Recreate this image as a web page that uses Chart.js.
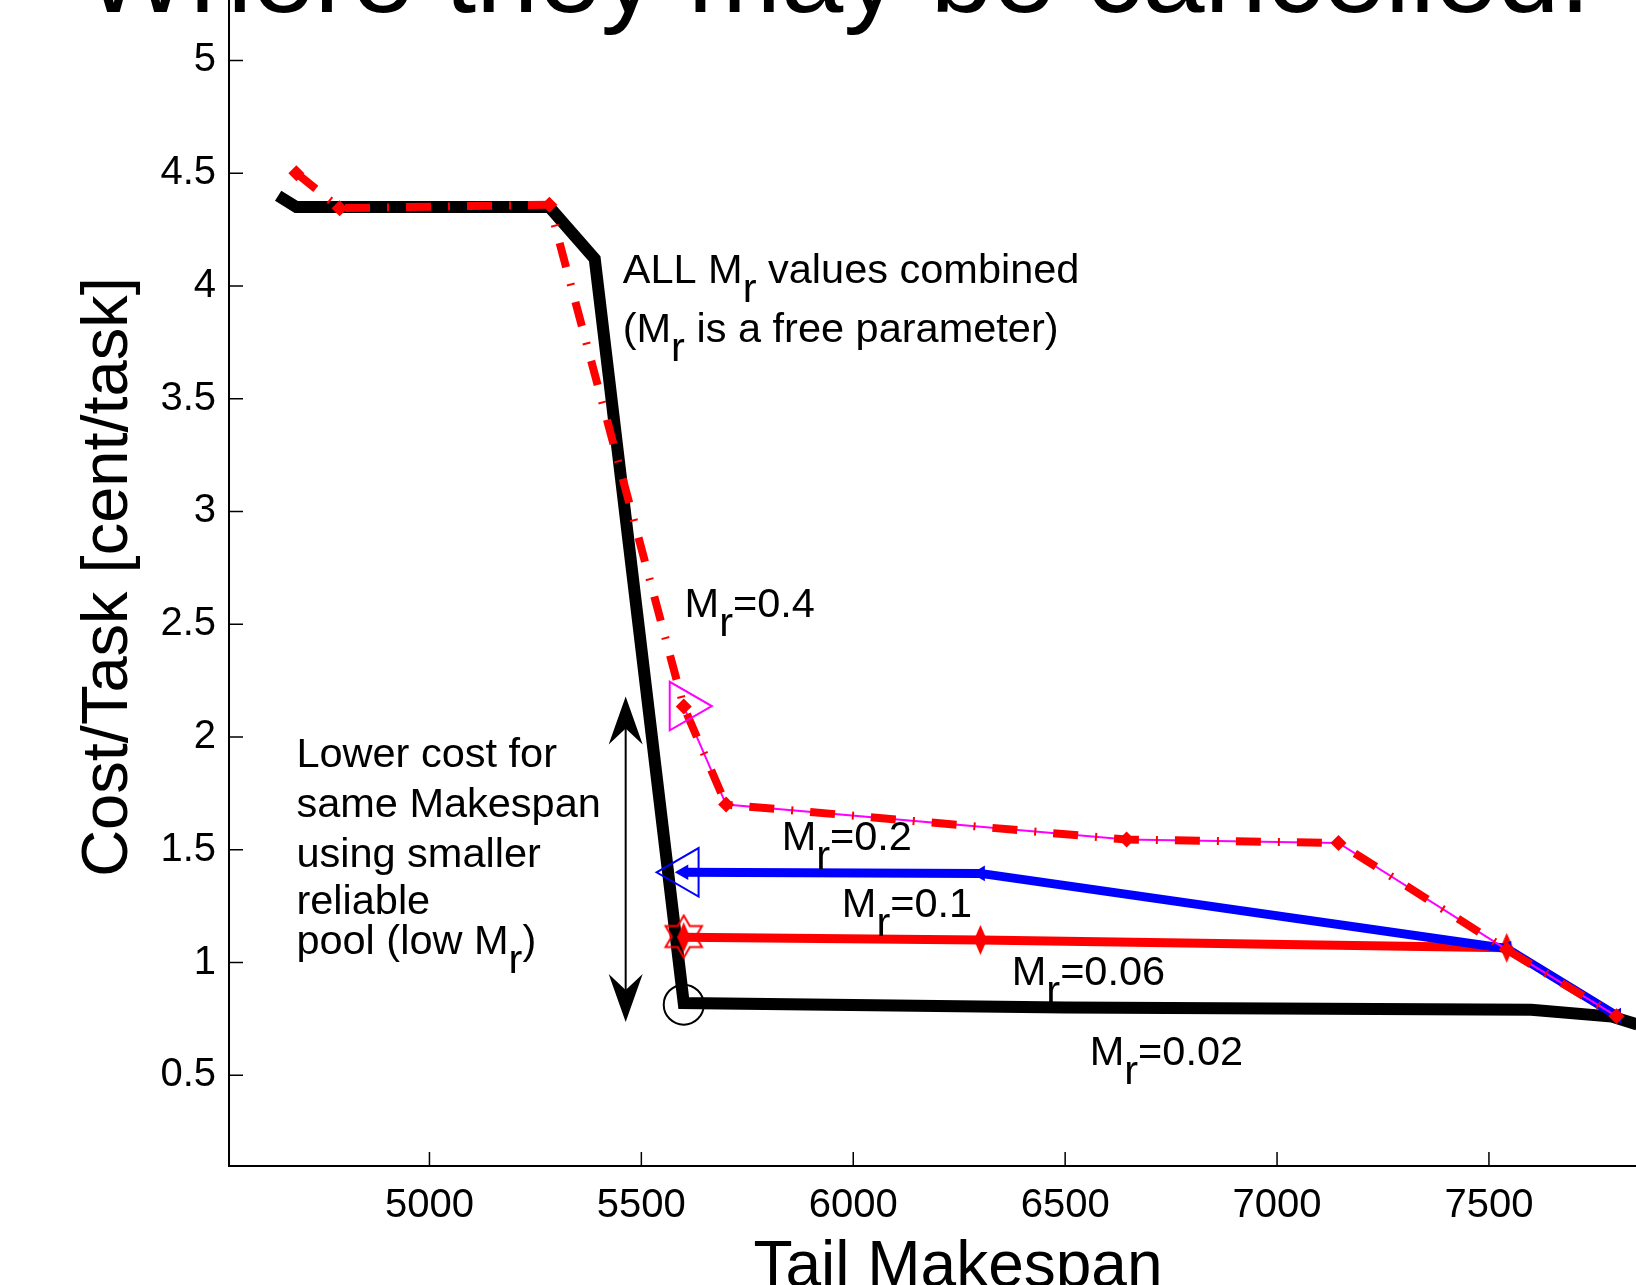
<!DOCTYPE html>
<html>
<head>
<meta charset="utf-8">
<script src="https://cdn.jsdelivr.net/npm/chart.js@4.4.1/dist/chart.umd.min.js"></script>
<style>
  html, body { margin: 0; padding: 0; background: #fff; overflow: hidden; }
  #wrap { width: 1636px; height: 1285px; }
</style>
</head>
<body>
<div id="wrap"><canvas id="chart" width="1636" height="1285"></canvas></div>
<script>
// Cost per task vs tail makespan, one curve per reliable pool fraction M_r
const allMrX = [4643, 4686, 5283, 5390, 5600, 6500, 7600, 7790, 7850];
const allMrY = [4.40, 4.35, 4.35, 4.12, 0.82, 0.80, 0.79, 0.76, 0.725];

const mr04X = [4686, 4788, 5283, 5600, 5700, 6645, 7145, 7542, 7801];
const mr04Y = [4.50, 4.345, 4.36, 2.135, 1.70, 1.545, 1.53, 1.057, 0.762];

const mr02X = [5600, 5700, 6645, 7145, 7542, 7801];
const mr02Y = [2.135, 1.70, 1.545, 1.53, 1.057, 0.762];

const mr01X = [5600, 6300, 7542, 7801];
const mr01Y = [1.40, 1.395, 1.062, 0.765];

const mr006X = [5600, 6300, 7542];
const mr006Y = [1.112, 1.10, 1.065];

// chosen point of each curve at the knee (triangle, triangle, hexagram, circle)
const bestX = [5600, 5602, 5600, 5600];
const bestY = [2.137, 1.40, 1.115, 0.813];

const xTicks = [5000, 5500, 6000, 6500, 7000, 7500];
const yTicks = [0.5, 1, 1.5, 2, 2.5, 3, 3.5, 4, 4.5, 5];

// text annotations, in data units (left edge, baseline)
const notes = [
    { text: 'ALL M_r values combined', x: 5456, y: 4.014 },
    { text: '(M_r is a free parameter)', x: 5456, y: 3.752 },
    { text: 'M_r=0.4', x: 5602, y: 2.533 },
    { text: 'M_r=0.2', x: 5831, y: 1.500 },
    { text: 'M_r=0.1', x: 5973, y: 1.2035 },
    { text: 'M_r=0.06', x: 6374, y: 0.898 },
    { text: 'M_r=0.02', x: 6558, y: 0.5475 },
    { text: 'Lower cost for', x: 4686, y: 1.868 },
    { text: 'same Makespan', x: 4686, y: 1.647 },
    { text: 'using smaller', x: 4686, y: 1.425 },
    { text: 'reliable', x: 4686, y: 1.213 },
    { text: 'pool (low M_r)', x: 4686, y: 1.0355 }
];
const arrow = { x: 5463, top: 2.18, bottom: 0.736 };

const FONT = '"Liberation Sans", Arial, Helvetica, sans-serif';

const pts = (xs, ys) => xs.map((x, i) => ({ x: x, y: ys[i] }));

// open hexagram marker
function makeHexagram(size, color) {
    const c = document.createElement('canvas');
    c.width = size; c.height = size;
    const g = c.getContext('2d');
    const R = size / 2 - 2, r = R / Math.sqrt(3);
    g.beginPath();
    for (let i = 0; i < 12; i++) {
        const a = -Math.PI / 2 + i * Math.PI / 6;
        const rr = i % 2 ? r : R;
        const px = size / 2 + rr * Math.cos(a), py = size / 2 + rr * Math.sin(a);
        if (i === 0) g.moveTo(px, py); else g.lineTo(px, py);
    }
    g.closePath();
    g.strokeStyle = color;
    g.lineWidth = 2;
    g.stroke();
    return c;
}

// small filled marker of the red solid line (tall spike)
function makeSpike(w, h, color) {
    const c = document.createElement('canvas');
    c.width = w; c.height = h;
    const g = c.getContext('2d');
    g.beginPath();
    g.moveTo(w / 2, 0);
    g.lineTo(w, h / 2);
    g.lineTo(w / 2, h);
    g.lineTo(0, h / 2);
    g.closePath();
    g.fillStyle = color;
    g.fill();
    return c;
}

const hexMarker = makeHexagram(46, '#ff0000');
const spikeMarker = makeSpike(13, 30, '#ff0000');

function drawSub(ctx, str, x, y, drop) {
    const parts = str.split(/_(\w)/);
    let cx = x;
    parts.forEach((p, i) => {
        ctx.fillText(p, cx, i % 2 ? y + drop : y);
        cx += ctx.measureText(p).width;
    });
}

function arrowHead(ctx, x, tipY, dir) {
    const len = 48, half = 17, notch = 32;
    ctx.beginPath();
    ctx.moveTo(x, tipY);
    ctx.lineTo(x - half, tipY + dir * len);
    ctx.lineTo(x, tipY + dir * notch);
    ctx.lineTo(x + half, tipY + dir * len);
    ctx.closePath();
    ctx.fill();
}

const decorations = {
    id: 'decorations',
    afterDraw(chart) {
        const ctx = chart.ctx;
        const xs = chart.scales.x, ys = chart.scales.y;
        const { left, bottom } = chart.chartArea;
        ctx.save();

        // inward ticks
        ctx.strokeStyle = '#000';
        ctx.lineWidth = 1.5;
        ctx.beginPath();
        xs.ticks.forEach(t => {
            const px = xs.getPixelForValue(t.value);
            ctx.moveTo(px, bottom);
            ctx.lineTo(px, bottom - 14);
        });
        ys.ticks.forEach(t => {
            const py = ys.getPixelForValue(t.value);
            ctx.moveTo(left, py);
            ctx.lineTo(left + 14, py);
        });
        ctx.stroke();

        // double arrow
        const ax = xs.getPixelForValue(arrow.x);
        const aTop = ys.getPixelForValue(arrow.top);
        const aBot = ys.getPixelForValue(arrow.bottom);
        ctx.lineWidth = 2;
        ctx.beginPath();
        ctx.moveTo(ax, aTop + 20);
        ctx.lineTo(ax, aBot - 20);
        ctx.stroke();
        ctx.fillStyle = '#000';
        arrowHead(ctx, ax, aTop, 1);
        arrowHead(ctx, ax, aBot, -1);

        // annotations
        ctx.font = '41.5px ' + FONT;
        ctx.textAlign = 'left';
        ctx.textBaseline = 'alphabetic';
        notes.forEach(n => {
            drawSub(ctx, n.text, xs.getPixelForValue(n.x), ys.getPixelForValue(n.y), 19);
        });

        // title (cut off by the top edge)
        ctx.font = '112px ' + FONT;
        ctx.fillText('Where they may be cancelled.', 84, 12);

        // axis titles
        ctx.textAlign = 'center';
        ctx.font = '64px ' + FONT;
        ctx.fillText('Tail Makespan', 958, 1286);
        ctx.font = '65px ' + FONT;
        ctx.translate(127, 577);
        ctx.rotate(-Math.PI / 2);
        ctx.fillText('Cost/Task [cent/task]', 0, 0);

        ctx.restore();
    }
};

const tickFont = { family: FONT, size: 40 };

function noPad(s) {
    s.paddingTop = 0; s.paddingBottom = 0;
    s.paddingLeft = 0; s.paddingRight = 0;
}

new Chart(document.getElementById('chart'), {
    type: 'scatter',
    data: {
        datasets: [
            {
                label: 'best',
                data: pts(bestX, bestY),
                showLine: false,
                pointStyle: ['triangle', 'triangle', hexMarker, 'circle'],
                pointRotation: [90, -90, 0, 0],
                pointRadius: [28, 28, 20, 20],
                pointBorderColor: ['#ff00ff', '#0000ff', '#ff0000', '#000000'],
                pointBackgroundColor: 'rgba(0,0,0,0)',
                pointBorderWidth: 2,
                order: 0
            },
            {
                label: 'M_r=0.4',
                data: pts(mr04X, mr04Y),
                showLine: true,
                borderColor: '#ff0000',
                borderWidth: 8,
                borderDash: [25, 17, 2, 17],
                borderCapStyle: 'butt',
                borderJoinStyle: 'miter',
                pointStyle: 'rectRot',
                pointRadius: 8,
                pointBackgroundColor: '#ff0000',
                pointBorderWidth: 0,
                order: 1
            },
            {
                label: 'M_r=0.2',
                data: pts(mr02X, mr02Y),
                showLine: true,
                borderColor: '#ff00ff',
                borderWidth: 2,
                pointRadius: 0,
                order: 2
            },
            {
                label: 'M_r=0.1',
                data: pts(mr01X, mr01Y),
                showLine: true,
                borderColor: '#0000ff',
                borderWidth: 9,
                borderJoinStyle: 'miter',
                pointStyle: 'triangle',
                pointRotation: -90,
                pointRadius: 9,
                pointBackgroundColor: '#0000ff',
                pointBorderWidth: 0,
                order: 3
            },
            {
                label: 'M_r=0.06',
                data: pts(mr006X, mr006Y),
                showLine: true,
                borderColor: '#ff0000',
                borderWidth: 9,
                borderJoinStyle: 'miter',
                pointStyle: spikeMarker,
                pointRadius: 6,
                order: 4
            },
            {
                label: 'ALL M_r',
                data: pts(allMrX, allMrY),
                showLine: true,
                borderColor: '#000000',
                borderWidth: 12,
                borderCapStyle: 'butt',
                borderJoinStyle: 'miter',
                pointRadius: 0,
                order: 5
            }
        ]
    },
    options: {
        responsive: false,
        animation: false,
        events: [],
        layout: { padding: 0, autoPadding: false },
        plugins: { legend: { display: false }, tooltip: { enabled: false } },
        elements: { line: { tension: 0 } },
        scales: {
            x: {
                type: 'linear',
                min: 4527,
                max: 7847,
                afterBuildTicks: s => { s.ticks = xTicks.map(v => ({ value: v })); },
                afterFit: s => { s.height = 119; noPad(s); },
                grid: { display: false, drawTicks: false },
                border: { display: true, color: '#000', width: 2 },
                ticks: { color: '#000', font: tickFont, padding: 16, maxRotation: 0, autoSkip: false, callback: v => String(v) }
            },
            y: {
                type: 'linear',
                min: 0.0975,
                max: 5.268,
                afterBuildTicks: s => { s.ticks = yTicks.map(v => ({ value: v })); },
                afterFit: s => { s.width = 229; noPad(s); },
                grid: { display: false, drawTicks: false },
                border: { display: true, color: '#000', width: 2 },
                ticks: { color: '#000', font: tickFont, padding: 13, autoSkip: false, callback: v => String(v) }
            }
        }
    },
    plugins: [decorations]
});
</script>
</body>
</html>
